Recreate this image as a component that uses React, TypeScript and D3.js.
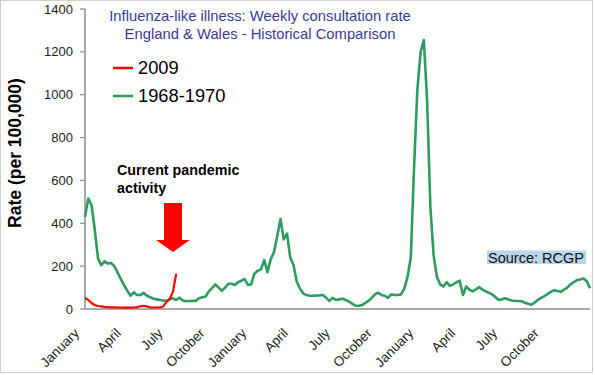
import React from "react";
import * as d3 from "d3";

const monthLabels = ["January", "April", "July", "October", "January", "April", "July", "October", "January", "April", "July", "October"];
const yTicks = [0, 200, 400, 600, 800, 1000, 1200, 1400];

const series1968 = [
  430, 515, 485, 370, 235, 205, 222, 212, 215, 200, 170, 140, 110, 85, 62, 78, 65, 65, 75, 62,
  55, 48, 45, 42, 40, 38, 45, 50, 42, 53, 40, 36, 37, 38, 38, 50, 55, 58, 82, 98,
  115, 100, 85, 100, 118, 118, 112, 125, 132, 140, 112, 115, 165, 178, 185, 228, 172, 232, 265, 340,
  420, 325, 352, 240, 205, 127, 95, 72, 65, 62, 62, 63, 63, 65, 52, 38, 52, 42, 45, 48,
  42, 35, 25, 15, 15, 18, 28, 38, 52, 68, 76, 65, 62, 52, 68, 66, 65, 68, 95, 150,
  240, 660, 1020, 1200, 1255, 975, 480, 250, 150, 115, 105, 125, 108, 115, 125, 132, 65, 105, 90, 82,
  92, 102, 90, 82, 75, 68, 55, 42, 45, 50, 44, 40, 38, 37, 36, 29, 25, 20, 30, 42,
  52, 60, 70, 80, 88, 84, 80, 90, 100, 115, 125, 135, 138, 142, 130, 97,
];

const series2009 = [
  52, 42, 28, 18, 14, 12, 10, 9, 8, 8, 7, 7, 6, 6, 6, 7, 9, 13, 15, 12,
  8, 7, 7, 7, 12, 32, 48, 80, 165,
];

const legendNames = ["2009", "1968-1970"];
const titleLines = ["Influenza-like illness: Weekly consultation rate", "England & Wales - Historical Comparison"];

const W = 595;
const H = 375;
const left = 85;
const right = 590;
const top = 9;
const bottom = 309;

const RED = "#ff0000";
const GREEN = "#2e9b5f";

export default function App() {
  const nWeeks = series1968.length;
  const x = d3.scaleLinear().domain([0, nWeeks - 1]).range([left, right]);
  const y = d3.scaleLinear().domain([0, 1400]).range([bottom, top]);
  const xLabel = d3
    .scalePoint<number>()
    .domain(monthLabels.map((_, i) => i))
    .range([left - 5, left - 5 + 11 * 41.8]);
  const line = d3
    .line<number>()
    .x((_, i) => x(i))
    .y((d) => y(d));

  const font = "Liberation Sans, Arial, sans-serif";

  return (
    <svg
      width={W}
      height={H}
      style={{ position: "absolute", left: 0, top: 0, background: "#fff" }}
      fontFamily={font}
    >
      <rect x={0.5} y={0.5} width={592} height={372} fill="#fff" stroke="#cfcfcf" />

      {/* title */}
      {titleLines.map((t, i) => (
        <text key={i} x={260} y={20.5 + i * 18} textAnchor="middle" fontSize={14.8} fill="#3b3b98">
          {t}
        </text>
      ))}

      {/* y axis */}
      <line x1={left} x2={left} y1={top} y2={bottom} stroke="#8c8c8c" strokeWidth={1.5} />
      {yTicks.map((t) => (
        <g key={t}>
          <line x1={left - 5} x2={left} y1={y(t)} y2={y(t)} stroke="#8c8c8c" strokeWidth={1.2} />
          <text x={73} y={y(t)} dy="0.35em" textAnchor="end" fontSize={13} fill="#222">
            {t}
          </text>
        </g>
      ))}
      <text
        transform={`translate(21, 153) rotate(-90)`}
        textAnchor="middle"
        fontSize={17.5}
        fontWeight="bold"
        fill="#000"
      >
        Rate (per 100,000)
      </text>

      {/* x axis */}
      <line x1={left} x2={right} y1={bottom} y2={bottom} stroke="#8c8c8c" strokeWidth={1.5} />
      {monthLabels.map((m, i) => (
        <text
          key={i}
          transform={`translate(${xLabel(i)}, 334) rotate(-45)`}
          textAnchor="end"
          fontSize={13.5}
          fill="#222"
        >
          {m}
        </text>
      ))}

      {/* lines */}
      <path d={line(series1968) || ""} fill="none" stroke={GREEN} strokeWidth={2.6} strokeLinejoin="round" />
      <path d={line(series2009) || ""} fill="none" stroke={RED} strokeWidth={2.2} strokeLinejoin="round" />

      {/* legend */}
      <line x1={113} x2={133} y1={68} y2={68} stroke={RED} strokeWidth={2.5} />
      <text x={138} y={68} dy="0.35em" fontSize={18.3} fill="#000">
        {legendNames[0]}
      </text>
      <line x1={113} x2={133} y1={96} y2={96} stroke={GREEN} strokeWidth={2.5} />
      <text x={138} y={96} dy="0.35em" fontSize={18.3} fill="#000">
        {legendNames[1]}
      </text>

      {/* annotation */}
      <text x={117} y={175} fontSize={14.3} fontWeight="bold" fill="#000">
        Current pandemic
      </text>
      <text x={117} y={193} fontSize={14.3} fontWeight="bold" fill="#000">
        activity
      </text>
      <path d="M164,203 L182,203 L182,240 L190,240 L173,252 L156,240 L164,240 Z" fill="#ff0000" />

      {/* source */}
      <rect x={487} y={250.5} width={99} height={13.5} fill="#b9d5ea" />
      <text x={488} y={263} fontSize={14.5} fill="#111">
        Source: RCGP
      </text>
    </svg>
  );
}
